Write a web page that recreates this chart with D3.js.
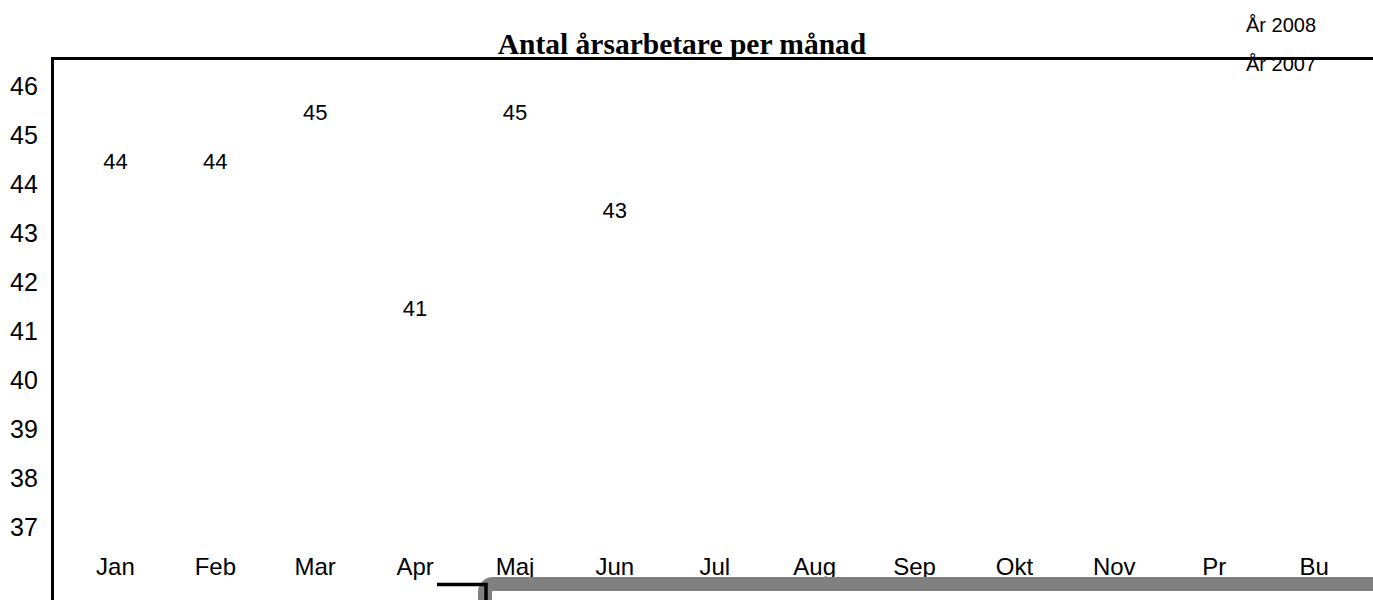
<!DOCTYPE html>
<html>
<head>
<meta charset="utf-8">
<script src="https://cdn.jsdelivr.net/npm/d3@7/dist/d3.min.js"></script>
<style>
html,body{margin:0;padding:0;background:#fff;overflow:hidden;}
svg{display:block;}
</style>
</head>
<body>
<svg id="chart" width="1373" height="600"></svg>
<script>
const title = "Antal årsarbetare per månad";
const categories = ["Jan","Feb","Mar","Apr","Maj","Jun","Jul","Aug","Sep","Okt","Nov","Pr","Bu"];
const values2008 = [44, 44, 45, 41, 45, 43, null, null, null, null, null, null, null];
const yTicks = [37, 38, 39, 40, 41, 42, 43, 44, 45, 46];
const legendLabels = ["År 2008", "År 2007"];

const svg = d3.select("#chart");
const W = 1373, H = 600;
const sans = "'Liberation Sans',Arial,sans-serif";

const x = d3.scaleBand().domain(categories).range([65.5, 1364]);
const y = d3.scaleLinear().domain([36, 46]).range([576.5, 86.5]);

// title
svg.append("text")
  .attr("x", 682).attr("y", 54)
  .attr("text-anchor", "middle")
  .attr("font-family", "'Liberation Serif','Times New Roman',serif")
  .attr("font-weight", "bold")
  .attr("font-size", 29.5)
  .text(title);

// legend
svg.selectAll(".leg").data(legendLabels).enter().append("text")
  .attr("class", "leg")
  .attr("x", 1246)
  .attr("y", (d, i) => 32 + i * 39)
  .attr("font-family", sans)
  .attr("font-size", 20)
  .text(d => d);

// frame lines
svg.append("path")
  .attr("d", `M52.5,${H}V58.5H${W}`)
  .attr("fill", "none").attr("stroke", "#000").attr("stroke-width", 3);

// y axis labels
svg.selectAll(".yl").data(yTicks).enter().append("text")
  .attr("class", "yl")
  .attr("x", 10)
  .attr("y", d => y(d))
  .attr("dy", "0.35em")
  .attr("font-family", sans)
  .attr("font-size", 25)
  .text(d => d);

// x labels
svg.selectAll(".xl").data(categories).enter().append("text")
  .attr("class", "xl")
  .attr("x", d => x(d) + x.bandwidth() / 2)
  .attr("y", 567)
  .attr("dy", "0.35em")
  .attr("text-anchor", "middle")
  .attr("font-family", sans)
  .attr("font-size", 24)
  .text(d => d);

// data labels
const pts = categories.map((c, i) => ({c, v: values2008[i]})).filter(d => d.v != null);
svg.selectAll(".dl").data(pts).enter().append("text")
  .attr("class", "dl")
  .attr("x", d => x(d.c) + x.bandwidth() / 2)
  .attr("y", d => y(d.v) - 23)
  .attr("dy", "0.35em")
  .attr("text-anchor", "middle")
  .attr("font-family", sans)
  .attr("font-size", 22)
  .text(d => d.v);

// bottom gray box and black connector
svg.append("rect")
  .attr("x", 485).attr("y", 584)
  .attr("width", 1000).attr("height", 200)
  .attr("rx", 8)
  .attr("fill", "#fff").attr("stroke", "#808080").attr("stroke-width", 14);
svg.append("path")
  .attr("d", `M437,584.5H486V${H}`)
  .attr("fill", "none").attr("stroke", "#000").attr("stroke-width", 3.5);
</script>
</body>
</html>
